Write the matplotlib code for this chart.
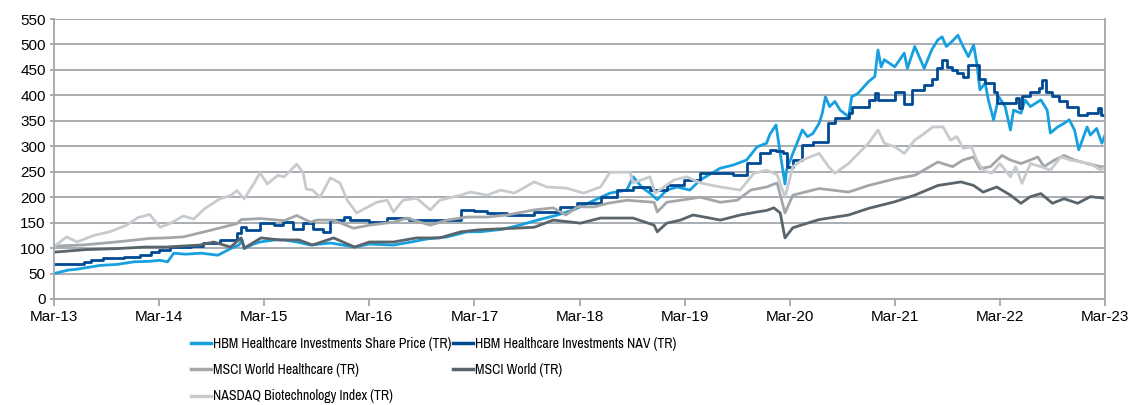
import matplotlib
matplotlib.use("Agg")
import matplotlib.pyplot as plt
from matplotlib import font_manager
from matplotlib.font_manager import FontProperties

plt.rcParams['font.family'] = ['Liberation Sans', 'DejaVu Sans']

# Years since Mar-13 and index values
sp_t = [0, 0.14, 0.2, 0.44, 0.6, 0.76, 0.9, 1.01, 1.08, 1.14, 1.25, 1.4, 1.56, 1.68, 1.76, 1.79, 1.81, 1.9, 1.96,
        2.1, 2.19, 2.31, 2.44, 2.63, 2.75, 2.86, 3.0, 3.23, 3.4, 3.55, 3.74, 3.93, 4.05, 4.27, 4.43, 4.6, 4.79, 4.94,
        5.1, 5.29, 5.45, 5.51, 5.6, 5.67, 5.74, 5.83, 5.93, 6.05, 6.15, 6.34, 6.46, 6.59, 6.69, 6.78,
        6.81, 6.87, 6.9, 6.955, 6.97, 7.03, 7.12, 7.17, 7.22, 7.28, 7.31, 7.34, 7.38, 7.43, 7.48, 7.56, 7.59, 7.65,
        7.75, 7.81, 7.84, 7.87, 7.9, 8.0, 8.09, 8.12, 8.19, 8.28, 8.35, 8.41, 8.45, 8.49, 8.54, 8.6, 8.65, 8.7,
        8.75, 8.78, 8.81, 8.86, 8.89, 8.94, 8.99, 9.05, 9.1, 9.13, 9.2, 9.24, 9.29, 9.39, 9.45, 9.48, 9.55, 9.61,
        9.66, 9.71, 9.75, 9.83, 9.86, 9.92, 9.97, 10]
sp_v = [50, 57, 58, 66, 68, 73, 74, 76, 73, 90, 88, 90, 86, 99, 106, 116, 99, 108, 112,
        116, 116, 112, 106, 110, 106, 102, 108, 106, 112, 118, 122, 132, 132, 137, 145, 155, 165, 175,
        190, 208, 214, 240, 218, 208, 195, 214, 220, 214, 234, 257, 263, 273, 299, 306,
        323, 342, 299, 226, 253, 286, 332, 319, 325, 345, 365, 397, 378, 388, 371, 358, 397, 404,
        427, 437, 489, 456, 470, 456, 483, 453, 496, 453, 489, 509, 515, 496, 505, 518, 496, 476,
        499, 463, 411, 424, 391, 352, 397, 378, 332, 371, 365, 391, 378, 391, 371, 326, 338, 345,
        352, 332, 293, 338, 322, 335, 306, 322]

nav_t = [0, 0.29, 0.35, 0.47, 0.67, 0.82, 0.92, 1.0, 1.1, 1.3, 1.42, 1.58, 1.74, 1.78, 1.83, 1.96, 2.09, 2.18, 2.27,
         2.37, 2.46, 2.56, 2.63, 2.76, 2.82, 3.0, 3.17, 3.38, 3.58, 3.74, 3.87, 4.0, 4.12, 4.31, 4.57, 4.81, 4.98,
         5.2, 5.36, 5.51, 5.67, 5.83, 5.99, 6.15, 6.34, 6.46, 6.59, 6.72, 6.81, 6.87, 6.94, 6.97, 7.03, 7.12,
         7.22, 7.36, 7.43, 7.56, 7.59, 7.75, 7.81, 7.84, 8.0, 8.09, 8.16, 8.28, 8.35, 8.4, 8.45, 8.5, 8.54, 8.59,
         8.65, 8.7, 8.77, 8.8, 8.86, 8.94, 8.97, 9.1, 9.15, 9.18, 9.21, 9.29, 9.37, 9.4, 9.44, 9.5, 9.56, 9.64,
         9.74, 9.83, 9.93, 9.96, 10]
nav_v = [68, 72, 76, 80, 82, 86, 92, 96, 102, 104, 110, 116, 129, 141, 135, 150, 145, 151, 137,
         149, 137, 132, 155, 161, 155, 151, 159, 155, 155, 155, 175, 172, 169, 165, 171, 181, 188,
         200, 214, 220, 214, 224, 234, 247, 247, 244, 267, 287, 293, 290, 286, 260, 273, 302,
         309, 345, 355, 365, 378, 391, 404, 391, 407, 384, 410, 420, 433, 453, 470, 456, 450, 444,
         437, 460, 460, 433, 424, 407, 385, 385, 394, 375, 398, 407, 414, 430, 407, 398, 388, 378,
         361, 365, 375, 361, 361]

hc_t = [0, 0.27, 0.59, 0.91, 1.06, 1.23, 1.49, 1.74, 1.78, 1.96, 2.19, 2.31, 2.44, 2.5, 2.66, 2.85, 3.0, 3.23, 3.36,
        3.58, 3.74, 3.93, 4.12, 4.31, 4.57, 4.75, 4.87, 4.98, 5.14, 5.27, 5.45, 5.71, 5.74, 5.83, 5.96, 6.15, 6.34,
        6.5, 6.63, 6.78, 6.88, 6.955, 7.03, 7.28, 7.56, 7.75, 8.0, 8.19, 8.41, 8.55, 8.65, 8.75, 8.81, 8.91,
        9.02, 9.1, 9.2, 9.29, 9.36, 9.42, 9.52, 9.61, 9.71, 9.83, 9.96, 10]
hc_v = [104, 106, 112, 119, 120, 122, 135, 148, 156, 158, 154, 164, 151, 155, 155, 139, 145, 151, 159,
        145, 155, 161, 161, 165, 175, 179, 165, 181, 181, 188, 194, 190, 171, 190, 194, 200, 190,
        194, 214, 220, 228, 169, 204, 217, 210, 223, 236, 243, 269, 260, 273, 279, 256, 260,
        282, 273, 266, 273, 279, 260, 273, 282, 273, 266, 260, 260]

w_t = [0, 0.3, 0.6, 0.86, 1.06, 1.39, 1.52, 1.68, 1.78, 1.81, 1.97, 2.15, 2.33, 2.46, 2.66, 2.86, 3.0, 3.23, 3.45,
       3.67, 3.87, 4.05, 4.38, 4.57, 4.75, 5.01, 5.2, 5.51, 5.71, 5.74, 5.83, 5.96, 6.08, 6.24, 6.34, 6.53, 6.69,
       6.78, 6.85, 6.91, 6.955, 7.03, 7.28, 7.56, 7.75, 8.0, 8.19, 8.41, 8.63, 8.75, 8.84, 8.97, 9.1, 9.2, 9.29,
       9.39, 9.5, 9.61, 9.74, 9.86, 10]
w_v = [92, 97, 99, 102, 102, 106, 112, 102, 120, 100, 120, 116, 116, 106, 120, 102, 112, 112, 120,
       120, 132, 136, 139, 141, 155, 149, 159, 159, 145, 132, 149, 155, 165, 159, 155, 165, 171,
       174, 179, 169, 120, 140, 156, 165, 178, 191, 204, 223, 230, 223, 210, 220, 204, 188, 201,
       207, 188, 197, 188, 201, 198]

nb_t = [0, 0.12, 0.22, 0.38, 0.53, 0.69, 0.8, 0.91, 1.01, 1.1, 1.23, 1.33, 1.43, 1.58, 1.68, 1.74, 1.81, 1.9, 1.96,
        2.03, 2.13, 2.19, 2.31, 2.37, 2.4, 2.46, 2.53, 2.63, 2.72, 2.79, 2.88, 2.97, 3.07, 3.17, 3.23, 3.32, 3.45,
        3.58, 3.67, 3.87, 3.96, 4.12, 4.25, 4.38, 4.57, 4.69, 4.87, 5.04, 5.2, 5.29, 5.48, 5.51, 5.67, 5.72, 5.9,
        6.02, 6.15, 6.34, 6.53, 6.66, 6.78, 6.88, 6.955, 7.03, 7.12, 7.28, 7.37, 7.43, 7.56, 7.62, 7.75, 7.84,
        7.9, 8.0, 8.09, 8.19, 8.28, 8.36, 8.46, 8.53, 8.59, 8.65, 8.73, 8.78, 8.84, 8.92, 9.0, 9.1, 9.15, 9.21,
        9.29, 9.39, 9.48, 9.58, 9.67, 9.77, 9.86, 9.96, 10]
nb_v = [103, 122, 112, 125, 132, 145, 160, 166, 141, 148, 163, 157, 177, 197, 203, 213, 197, 226, 248,
        226, 243, 240, 265, 248, 216, 214, 200, 238, 228, 194, 169, 179, 190, 194, 171, 194, 198,
        175, 194, 204, 210, 204, 214, 208, 230, 220, 218, 208, 220, 249, 249, 228, 240, 208, 234,
        240, 228, 220, 214, 247, 253, 244, 200, 260, 273, 286, 260, 247, 266, 279, 306, 332,
        306, 299, 286, 312, 325, 338, 338, 312, 319, 296, 299, 273, 253, 247, 266, 240, 260, 227,
        266, 260, 253, 279, 273, 269, 266, 253, 260]

tick_labels = ['Mar-13', 'Mar-14', 'Mar-15', 'Mar-16', 'Mar-17', 'Mar-18',
               'Mar-19', 'Mar-20', 'Mar-21', 'Mar-22', 'Mar-23']
y_ticks = list(range(0, 551, 50))

series = [
    ('HBM Healthcare Investments Share Price (TR)', sp_t, sp_v, '#16a0e0', 'default'),
    ('HBM Healthcare Investments NAV (TR)', nav_t, nav_v, '#004a93', 'steps-post'),
    ('MSCI World Healthcare (TR)', hc_t, hc_v, '#a4a7aa', 'default'),
    ('MSCI World (TR)', w_t, w_v, '#5a646b', 'default'),
    ('NASDAQ Biotechnology Index (TR)', nb_t, nb_v, '#c8cbce', 'default'),
]

fig = plt.figure(figsize=(11.32, 4.05), dpi=100)
ax = fig.add_axes([54/1132, 1-299/405, (1105-54)/1132, (299-19)/405])

handles = []
for name, t, v, c, ds in series:
    h, = ax.plot(t, v, color=c, lw=2.0, label=name, drawstyle=ds)
    handles.append(h)

ax.set_xlim(0, 10)
ax.set_ylim(0, 550)
ax.set_yticks(y_ticks)
ax.set_xticks(range(len(tick_labels)))
ax.set_xticklabels(tick_labels)
ax.grid(axis='y', color='#a3a7ab', lw=1.3)
ax.set_axisbelow(True)
for s in ['left', 'bottom', 'right']:
    ax.spines[s].set_color('#a3a7ab')
    ax.spines[s].set_linewidth(1.3)
ax.spines['top'].set_visible(False)
ax.tick_params(axis='both', colors='#a3a7ab', labelcolor='black', labelsize=11, width=1.3)
ax.tick_params(axis='x', length=5, pad=3)
ax.tick_params(axis='y', length=3, pad=3)

# legend font: an Arial-Narrow-like face whose longest label spans about 238 px
names = {f.name for f in font_manager.fontManager.ttflist}
renderer = fig.canvas.get_renderer()
def label_width(fam, size=11):
    p = fig.text(0, 0, series[0][0], fontproperties=FontProperties(family=fam, size=size))
    w = p.get_window_extent(renderer).width
    p.remove()
    return w
narrow, best = 'Liberation Sans', None
for fam in ['Liberation Sans Narrow', 'Arial Narrow', 'Archivo Narrow', 'PT Sans Narrow', 'Roboto Condensed',
            'Open Sans Condensed', 'IBM Plex Sans Condensed', 'Encode Sans Condensed', 'Asap Condensed',
            'Sofia Sans Condensed', 'Pragati Narrow', 'Fira Sans Condensed']:
    if fam in names:
        w = label_width(fam)
        if 215 <= w <= 265:
            narrow, best = fam, w
            break
if best is None:
    best = label_width(narrow)
leg_size = 11 * 238.0 / best

# order so that the two-column legend fills row by row
order = [0, 2, 4, 1, 3]
leg = fig.legend([handles[i] for i in order], [series[i][0] for i in order],
                 loc='upper left', bbox_to_anchor=(191/1132, 1-337/405), ncol=2, frameon=False,
                 prop={'family': [narrow, 'DejaVu Sans'], 'size': leg_size},
                 handlelength=1.45, handletextpad=0.15, columnspacing=0.1,
                 labelspacing=0.88, borderpad=0, borderaxespad=0)
for line in leg.get_lines():
    line.set_linewidth(2.5)

fig.savefig('out.png', dpi=100)
